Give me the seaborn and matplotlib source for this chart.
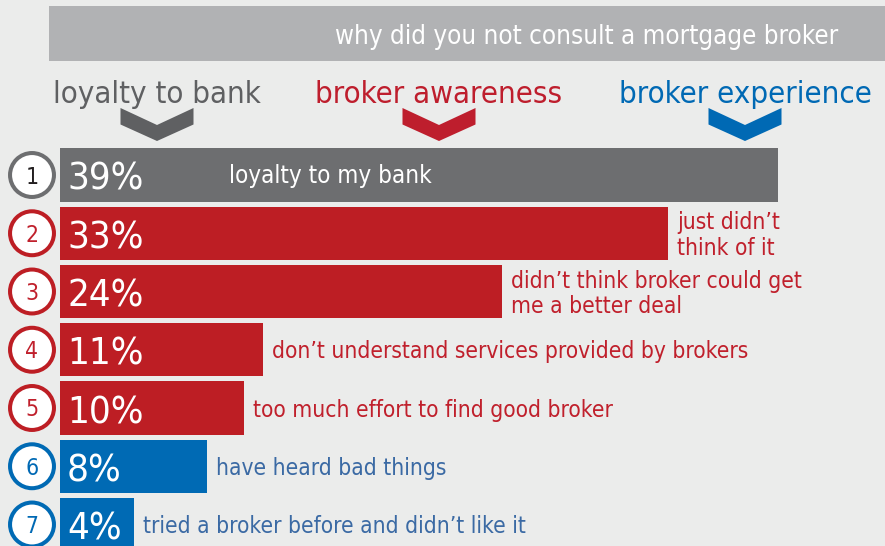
import matplotlib
matplotlib.use("Agg")
import matplotlib.pyplot as plt
from matplotlib import font_manager as fm
from matplotlib.patches import Rectangle, Polygon
import numpy as np
import pandas as pd
import seaborn as sns

# ---- data ---------------------------------------------------------------
title = "why did you not consult a mortgage broker"
groups = ["loyalty to bank", "broker awareness", "broker experience"]
ranks = [1, 2, 3, 4, 5, 6, 7]
shares = [39, 33, 24, 11, 10, 8, 4]
reason_group = ["loyalty to bank", "broker awareness", "broker awareness",
                "broker awareness", "broker awareness",
                "broker experience", "broker experience"]
reasons = [
    "loyalty to my bank",
    "just didn\u2019t\nthink of it",
    "didn\u2019t think broker could get\nme a better deal",
    "don\u2019t understand services provided by brokers",
    "too much effort to find good broker",
    "have heard bad things",
    "tried a broker before and didn\u2019t like it",
]

# ---- styling -------------------------------------------------------------
BG = "#ebeceb"
BAND = "#b1b2b4"
bar_colors = {"loyalty to bank": "#6d6e70",
              "broker awareness": "#bd1e24",
              "broker experience": "#006ab4"}
head_colors = {"loyalty to bank": "#5f6062",
               "broker awareness": "#be1e2d",
               "broker experience": "#0069b4"}
text_colors = {"loyalty to bank": "#ffffff",
               "broker awareness": "#c0202c",
               "broker experience": "#3b6aa4"}
num_colors = {"loyalty to bank": "#231f20",
              "broker awareness": "#c0202c",
              "broker experience": "#0069b4"}

sns.set_style("white")


def find_font():
    names = [f.fname for f in fm.fontManager.ttflist]
    try:
        names += fm.findSystemFonts()
    except Exception:
        pass
    for p in names:
        if p.endswith("DejaVuSansCondensed.ttf"):
            return {"fname": p}
    return {"family": "Lato"}


FONT = find_font()


def fp(size):
    return fm.FontProperties(size=size, **FONT)


W, H = 885, 546
fig = plt.figure(figsize=(W / 100, H / 100), dpi=100, facecolor=BG)

# decoration layer in pixel units
deco = fig.add_axes([0, 0, 1, 1], zorder=0)
deco.set_xlim(0, W)
deco.set_ylim(H, 0)
deco.axis("off")

deco.add_patch(Rectangle((49, 6), W - 49, 55, color=BAND, lw=0))
deco.text(838, 43.5, title, ha="right", va="baseline", color="white",
          fontproperties=fp(18.6))

head_x = [157, 439, 745]
for g, cx in zip(groups, head_x):
    deco.text(cx, 103, g, ha="center", va="baseline", color=head_colors[g],
              fontproperties=fp(22.4))
    hw = 36.5
    chev = [(cx - hw, 108), (cx, 125), (cx + hw, 108), (cx + hw, 124.5),
            (cx, 141), (cx - hw, 124.5)]
    deco.add_patch(Polygon(chev, closed=True, color=head_colors[g], lw=0))

# bar layer: x in percent, y in category slots
ax = fig.add_axes([0, 0, 1, 1], zorder=1)
ax.patch.set_visible(False)

df = pd.DataFrame({"rank": ranks, "share": shares, "group": reason_group,
                   "reason": reasons})
sns.barplot(data=df, x="share", y="reason", hue="group", order=reasons,
            palette=bar_colors, dodge=False, width=0.91, saturation=1,
            legend=False, orient="h", linewidth=0, edgecolor="none", ax=ax)

PX_PER_PCT = 18.42
PX_PER_ROW = 58.25
x0, y0 = 60, 175
ax.set_xlim(-x0 / PX_PER_PCT, (W - x0) / PX_PER_PCT)
ax.set_ylim((H - y0) / PX_PER_ROW, -y0 / PX_PER_ROW)
ax.axis("off")

PT = 0.72  # points per pixel at 100 dpi

# rank circles
circle_x = (32 - x0) / PX_PER_PCT
ax.scatter([circle_x] * len(ranks), np.arange(len(ranks)), s=1000,
           facecolor="white",
           edgecolor=[bar_colors[g] for g in reason_group],
           linewidth=2.9, zorder=3, clip_on=False)
for i, (r, g) in enumerate(zip(ranks, reason_group)):
    ax.annotate(str(r), xy=(circle_x, i), xytext=(0, -8.5 * PT),
                textcoords="offset points", ha="center", va="baseline",
                color=num_colors[g], fontproperties=fp(16.5), zorder=4)

# percentage labels and reasons
for i, (v, g, lab) in enumerate(zip(shares, reason_group, reasons)):
    ax.annotate(f"{v}%", xy=(0, i), xytext=(7 * PT, -15 * PT),
                textcoords="offset points", ha="left", va="baseline",
                color="white", fontproperties=fp(27.5), zorder=4)
    nlines = lab.count("\n") + 1
    dy = -(8.5 + 13 * (nlines - 1)) * PT
    if g == "loyalty to bank":
        # label sits inside the long bar
        ax.annotate(lab, xy=(0, i), xytext=(169 * PT, dy),
                    textcoords="offset points", ha="left", va="baseline",
                    color=text_colors[g], fontproperties=fp(17.4),
                    linespacing=1.13, zorder=4)
    else:
        ax.annotate(lab, xy=(v, i), xytext=(9 * PT, dy),
                    textcoords="offset points", ha="left", va="baseline",
                    color=text_colors[g], fontproperties=fp(16.3),
                    linespacing=1.13, zorder=4)

fig.savefig("out.png", dpi=100, facecolor=BG)
